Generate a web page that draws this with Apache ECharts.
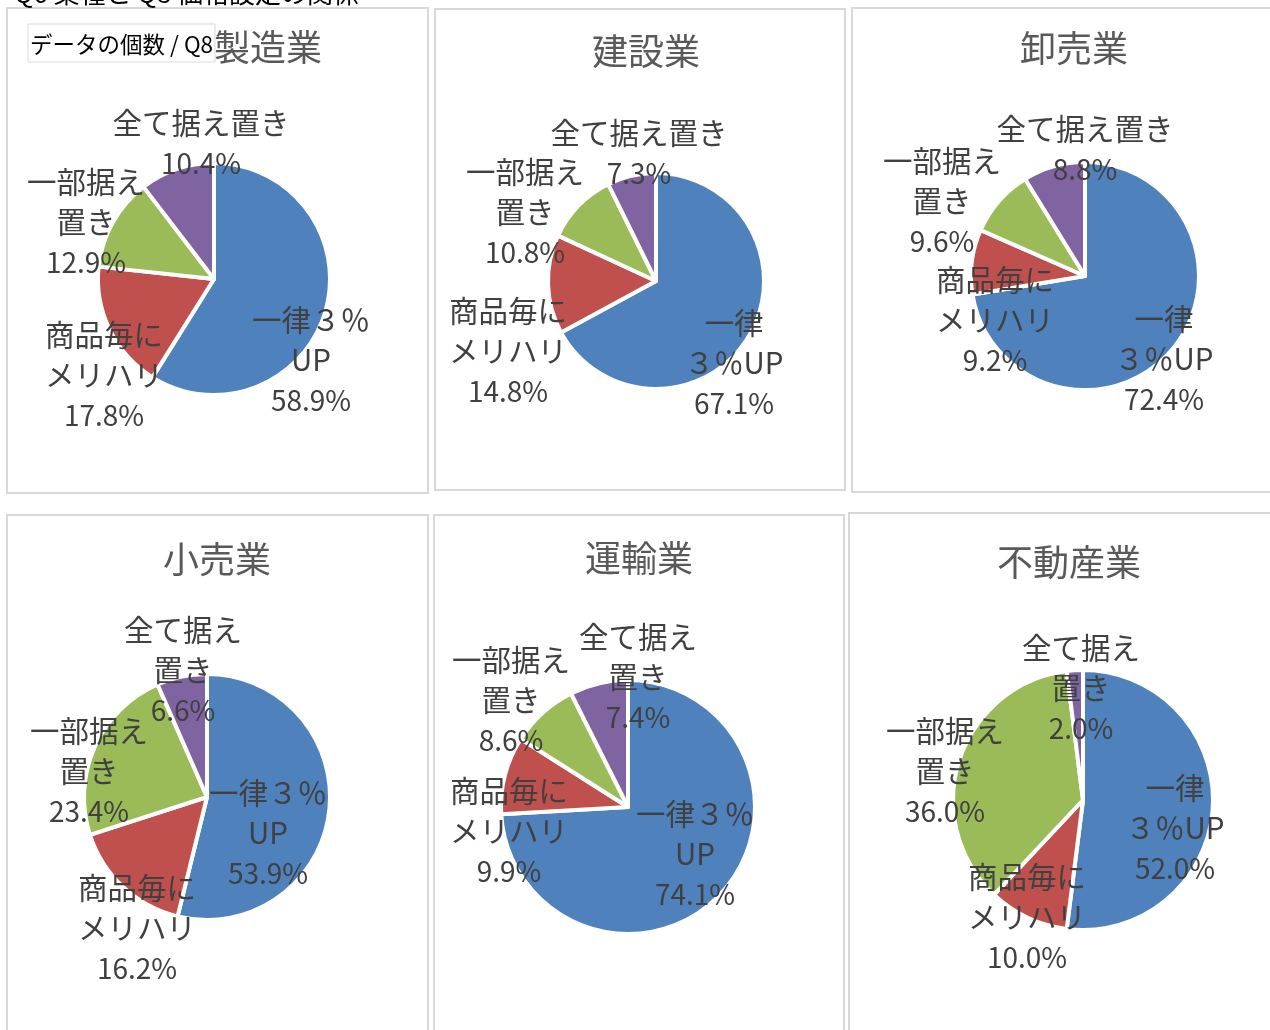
<!DOCTYPE html>
<html lang="ja">
<head>
<meta charset="utf-8">
<title>Q6 業種と Q8 価格設定の関係</title>
<script src="https://cdn.jsdelivr.net/npm/echarts@6/dist/echarts.min.js"></script>
<style>
  html, body { margin: 0; padding: 0; background: #ffffff; }
  #chart { width: 1270px; height: 1030px; }
</style>
</head>
<body>
<div id="chart"></div>
<script>
// Answer categories for Q8 (pricing policy), in slice order starting at 12 o'clock
const categories = ['一律３％UP', '商品毎にメリハリ', '一部据え置き', '全て据え置き'];

// Industry names (Q6)
const industries = ['製造業', '建設業', '卸売業', '小売業', '運輸業', '不動産業'];

// Share of respondents (%) per industry, same order as categories
const manufacturing = [58.9, 17.8, 12.9, 10.4];
const construction  = [67.1, 14.8, 10.8, 7.3];
const wholesale     = [72.4, 9.2, 9.6, 8.8];
const retail        = [53.9, 16.2, 23.4, 6.6];
const transport     = [74.1, 9.9, 8.6, 7.4];
const realEstate    = [52.0, 10.0, 36.0, 2.0];

const seriesValues = [manufacturing, construction, wholesale, retail, transport, realEstate];

const sliceColors = ['#4F81BD', '#C0504D', '#9BBB59', '#8064A2'];
const FONT = '"Noto Sans CJK JP", "Noto Sans", sans-serif';

// Panel layout: frame box, title centre, pie centre/radius,
// where each category name wraps, and label block offsets from the pie centre.
const panels = [
  { box: [7, 8, 421, 485],    title: [268, 47],  center: [214, 279],  r: 114, breaks: [4, 4, 4, 0],
    spots: [[97, 81], [-110, 96], [-128, -57], [-13, -136]] },
  { box: [435, 9, 410, 481],  title: [646, 51],  center: [656, 281],  r: 106, breaks: [2, 4, 4, 0],
    spots: [[78, 82], [-148, 70], [-131, -69], [-17, -128]] },
  { box: [852, 8, 430, 484],  title: [1074, 48], center: [1085, 276], r: 112, breaks: [2, 4, 4, 0],
    spots: [[79, 83], [-90, 44], [-143, -75], [0, -127]] },
  { box: [7, 515, 421, 530],  title: [217, 559], center: [207, 797],  r: 121, breaks: [4, 4, 4, 4],
    spots: [[61, 36], [-70, 131], [-118, -26], [-24, -127]] },
  { box: [434, 515, 410, 530], title: [639, 558], center: [628, 807], r: 125, breaks: [4, 4, 4, 4],
    spots: [[67, 47], [-119, 24], [-117, -107], [10, -130]] },
  { box: [849, 513, 430, 530], title: [1069, 562], center: [1083, 800], r: 128, breaks: [2, 4, 4, 4],
    spots: [[92, 28], [-56, 117], [-138, -29], [-2, -112]] }
];

// Category name split onto lines, each line tagged with the "n" rich style
function wrapName(name, at) {
  const lines = at > 0 && at < name.length ? [name.slice(0, at), name.slice(at)] : [name];
  return lines.map(function (l) { return '{n|' + l + '}'; }).join('\n');
}

const titles = [];
const series = [];
const graphics = [];

panels.forEach(function (p, i) {
  // frame around each chart
  graphics.push({
    type: 'rect', z: -1,
    shape: { x: p.box[0], y: p.box[1], width: p.box[2], height: p.box[3] },
    style: { fill: '#ffffff', stroke: '#d9d9d9', lineWidth: 2 }
  });

  titles.push({
    text: industries[i],
    left: p.title[0], top: p.title[1] - 18,
    textAlign: 'center', padding: 0,
    textStyle: { fontFamily: FONT, fontSize: 36, fontWeight: 'normal', color: '#595959' }
  });

  const values = seriesValues[i];
  series.push({
    type: 'pie',
    name: industries[i],
    center: p.center,
    radius: p.r + 2,
    startAngle: 90,
    clockwise: true,
    animation: false,
    silent: true,
    data: categories.map(function (c, k) {
      return { name: c, value: values[k], itemStyle: { color: sliceColors[k] } };
    }),
    itemStyle: { borderColor: '#ffffff', borderWidth: 4 },
    label: {
      show: true,
      position: 'inside',
      fontFamily: FONT,
      fontSize: 28,
      lineHeight: 40,
      color: '#404040',
      align: 'center',
      rich: {
        n: { fontFamily: FONT, fontSize: 29.5, lineHeight: 40, color: '#404040' },
        v: { fontFamily: FONT, fontSize: 28, lineHeight: 40, color: '#404040' }
      },
      formatter: function (prm) {
        return wrapName(prm.name, p.breaks[prm.dataIndex]) + '\n{v|' + prm.value.toFixed(1) + '%}';
      }
    },
    labelLine: { show: false },
    labelLayout: function (prm) {
      const s = p.spots[prm.dataIndex];
      return { x: p.center[0] + s[0], y: p.center[1] + s[1], align: 'center', verticalAlign: 'middle' };
    }
  });
});

// pivot field button in the first chart
graphics.push({
  type: 'rect', z: 10,
  shape: { x: 28, y: 24, width: 187, height: 38 },
  style: { fill: '#ffffff', stroke: '#d9d9d9', lineWidth: 1 }
});
graphics.push({
  type: 'text', z: 11,
  x: 30, y: 44,
  style: { text: 'データの個数 / Q8', font: '22.5px ' + FONT, fill: '#000000', verticalAlign: 'middle' }
});
// sheet heading above the charts
graphics.push({
  type: 'text', z: 11,
  x: 14, y: 6,
  style: { text: 'Q6 業種と Q8 価格設定の関係', font: '26px ' + FONT, fill: '#000000', verticalAlign: 'bottom' }
});

const chart = echarts.init(document.getElementById('chart'), null, { renderer: 'canvas' });
chart.setOption({
  backgroundColor: '#ffffff',
  animation: false,
  title: titles,
  graphic: graphics,
  series: series
});
</script>
</body>
</html>
